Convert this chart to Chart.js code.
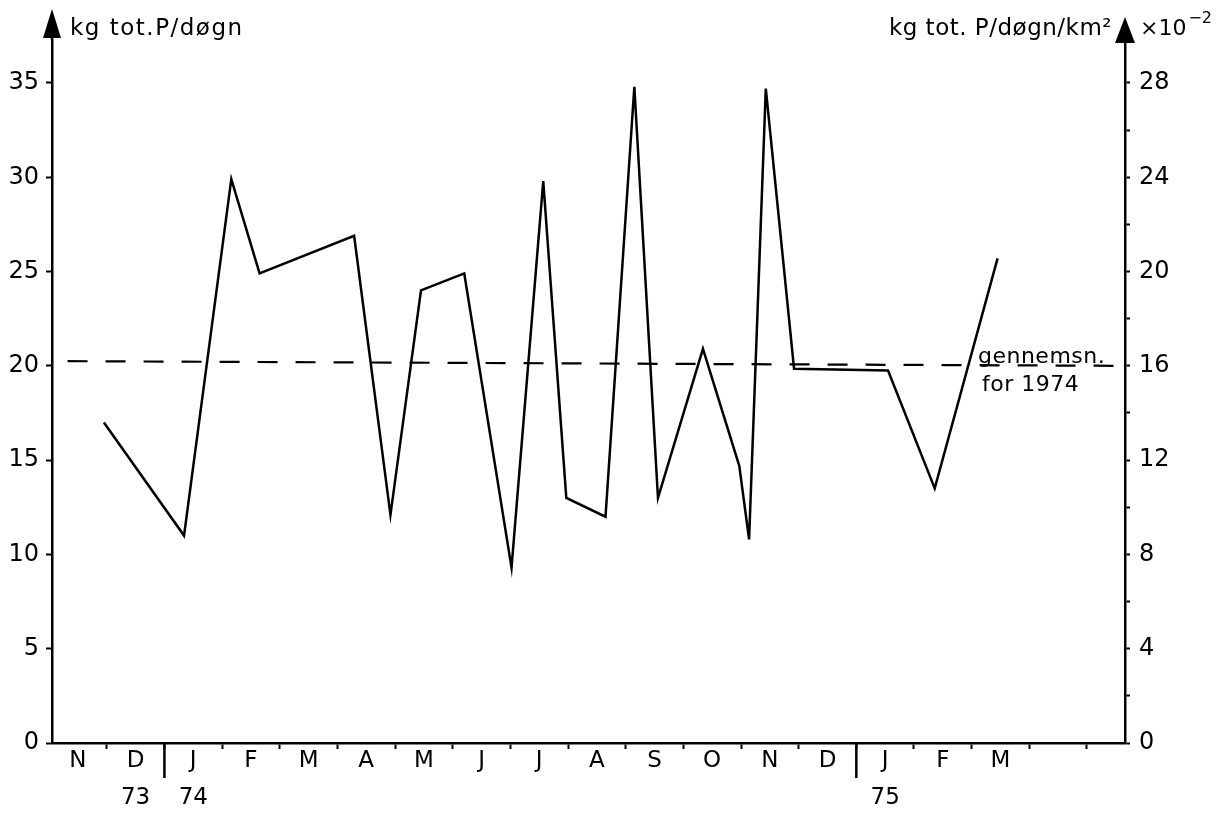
<!DOCTYPE html>
<html>
<head>
<meta charset="utf-8">
<script src="https://cdn.jsdelivr.net/npm/chart.js@4.4.0/dist/chart.umd.min.js"></script>
<style>
  html, body { margin: 0; padding: 0; background: #fff; }
  canvas { display: block; }
</style>
</head>
<body>
<canvas id="myChart" width="1229" height="815"></canvas>
<script>
// months on the x axis, Nov 1973 .. Mar 1975 (one unit per month)
const monthLabels = ["N", "D", "J", "F", "M", "A", "M", "J", "J", "A", "S", "O", "N", "D", "J", "F", "M"];
const yearLabels = ["", "73", "74", "", "", "", "", "", "", "", "", "", "", "", "75", "", ""];
const yearBreaks = [2, 14];

// sampling time (month units) and load in kg tot.P/døgn
const sampleMonths = [0.95, 2.34, 3.16, 3.65, 5.29, 5.92, 6.45, 7.2, 8.02, 8.57, 8.97, 9.65, 10.15, 10.56, 11.34, 11.97, 12.14, 12.43, 12.92, 14.55, 15.36, 16.45];
const loadValues = [17.0, 11.0, 29.9, 24.9, 26.9, 12.1, 24.0, 24.9, 9.3, 29.8, 13.0, 12.0, 34.8, 13.0, 20.9, 14.7, 10.8, 34.7, 19.85, 19.75, 13.5, 25.7];

// average for 1974
const meanMonths = [0.32, 18.62];
const meanValues = [20.25, 20.0];

const leftTicks = [0, 5, 10, 15, 20, 25, 30, 35];
const rightTicks = [0, 2, 4, 6, 8, 10, 12, 14, 16, 18, 20, 22, 24, 26, 28];
const areaFactor = 0.8; // kg/døgn -> kg/døgn/km2 x10^-2
const yTop = 37.28;

const FONT = '"DejaVu Sans"';

function toPoints(xs, ys) {
  return xs.map((x, i) => ({ x: x, y: ys[i] }));
}

const decorations = {
  id: "decorations",
  beforeDraw(chart) {
    const ctx = chart.ctx;
    ctx.save();
    ctx.fillStyle = "#fff";
    ctx.fillRect(0, 0, chart.width, chart.height);
    ctx.restore();
  },
  afterDraw(chart) {
    const { ctx, chartArea, scales } = chart;
    const left = chartArea.left;
    const right = chartArea.right;
    const top = chartArea.top;
    const bottom = chartArea.bottom;
    ctx.save();
    ctx.fillStyle = "#000";
    ctx.strokeStyle = "#000";

    // arrow heads on both vertical axes
    ctx.lineWidth = 2.5;
    ctx.beginPath();
    ctx.moveTo(left, top);
    ctx.lineTo(left, top - 20);
    ctx.stroke();
    ctx.beginPath();
    ctx.moveTo(left, top - 31);
    ctx.lineTo(left - 9, top - 2);
    ctx.lineTo(left + 9, top - 2);
    ctx.closePath();
    ctx.fill();

    ctx.beginPath();
    ctx.moveTo(right, top - 23);
    ctx.lineTo(right - 10, top + 3);
    ctx.lineTo(right + 10, top + 3);
    ctx.closePath();
    ctx.fill();

    // long ticks separating the years
    ctx.lineWidth = 2.5;
    yearBreaks.forEach((m) => {
      const px = scales.x.getPixelForValue(m);
      ctx.beginPath();
      ctx.moveTo(px, bottom);
      ctx.lineTo(px, bottom + 35);
      ctx.stroke();
    });

    // axis titles
    ctx.font = "23px " + FONT;
    ctx.letterSpacing = "1.5px";
    ctx.textBaseline = "alphabetic";
    ctx.textAlign = "left";
    ctx.fillText("kg tot.P/døgn", left + 18, top - 5);
    ctx.textAlign = "right";
    ctx.letterSpacing = "0.5px";
    ctx.fillText("kg tot. P/døgn/km²", right - 13, top - 5);
    ctx.textAlign = "left";
    ctx.letterSpacing = "0px";
    ctx.font = "22px " + FONT;
    ctx.fillText("×10", right + 15, top - 5);
    const w = ctx.measureText("×10").width;
    ctx.font = "16px " + FONT;
    ctx.fillText("−2", right + 17 + w, top - 17);

    // label of the average line
    ctx.font = "22px " + FONT;
    ctx.letterSpacing = "0.5px";
    const lx = scales.x.getPixelForValue(16.11);
    const ly = scales.y.getPixelForValue(meanValues[1]);
    ctx.fillText("gennemsn.", lx, ly - 3);
    ctx.fillText("for 1974", lx + 4, ly + 25);
    ctx.restore();
  }
};

const ctx = document.getElementById("myChart").getContext("2d");
new Chart(ctx, {
  type: "line",
  data: {
    datasets: [
      {
        data: toPoints(sampleMonths, loadValues),
        borderColor: "#000",
        borderWidth: 2.5,
        pointRadius: 0,
        tension: 0,
        yAxisID: "y"
      },
      {
        data: toPoints(meanMonths, meanValues),
        borderColor: "#000",
        borderWidth: 2.2,
        borderDash: [20, 18],
        pointRadius: 0,
        tension: 0,
        yAxisID: "y"
      }
    ]
  },
  options: {
    responsive: false,
    animation: false,
    layout: { padding: { top: 40, left: 0, right: 0, bottom: 0 } },
    plugins: {
      legend: { display: false },
      tooltip: { enabled: false }
    },
    scales: {
      x: {
        type: "linear",
        position: "bottom",
        min: 0.05,
        max: 18.66,
        afterBuildTicks: (scale) => {
          const t = [];
          for (let i = 1; i <= 18; i++) t.push({ value: i });
          monthLabels.forEach((m, i) => t.push({ value: i + 0.5 }));
          t.sort((a, b) => a.value - b.value);
          scale.ticks = t;
        },
        afterFit: (scale) => { scale.height = 72; },
        ticks: {
          autoSkip: false,
          maxRotation: 0,
          minRotation: 0,
          padding: -6,
          color: "#000",
          font: { family: FONT, size: 23, lineHeight: "37px" },
          callback: (value) => {
            if (Number.isInteger(value)) return "";
            const i = Math.round(value - 0.5);
            if (yearLabels[i]) return [monthLabels[i], yearLabels[i]];
            return monthLabels[i];
          }
        },
        grid: {
          drawOnChartArea: false,
          drawTicks: true,
          tickLength: 6,
          tickWidth: 2,
          tickColor: (c) => (c.tick && Number.isInteger(c.tick.value) ? "#000" : "rgba(0,0,0,0)")
        },
        border: { display: true, color: "#000", width: 2.5 }
      },
      y: {
        position: "left",
        min: 0,
        max: yTop,
        afterBuildTicks: (scale) => { scale.ticks = leftTicks.map((v) => ({ value: v })); },
        afterFit: (scale) => { scale.width = 52; },
        ticks: {
          padding: 7,
          color: "#000",
          font: { family: FONT, size: 24 }
        },
        grid: {
          drawOnChartArea: false,
          tickLength: 6,
          tickWidth: 2,
          tickColor: "#000"
        },
        border: { display: true, color: "#000", width: 2.5 }
      },
      y1: {
        position: "right",
        min: 0,
        max: yTop * areaFactor,
        afterBuildTicks: (scale) => { scale.ticks = rightTicks.map((v) => ({ value: v })); },
        afterFit: (scale) => { scale.width = 104; },
        ticks: {
          padding: 9,
          color: "#000",
          font: { family: FONT, size: 24 },
          callback: (v) => (v % 4 === 0 ? String(v) : "")
        },
        grid: {
          drawOnChartArea: false,
          tickLength: 5,
          tickWidth: 2,
          tickColor: "#000"
        },
        border: { display: true, color: "#000", width: 2.5 }
      }
    }
  },
  plugins: [decorations]
});
</script>
</body>
</html>
